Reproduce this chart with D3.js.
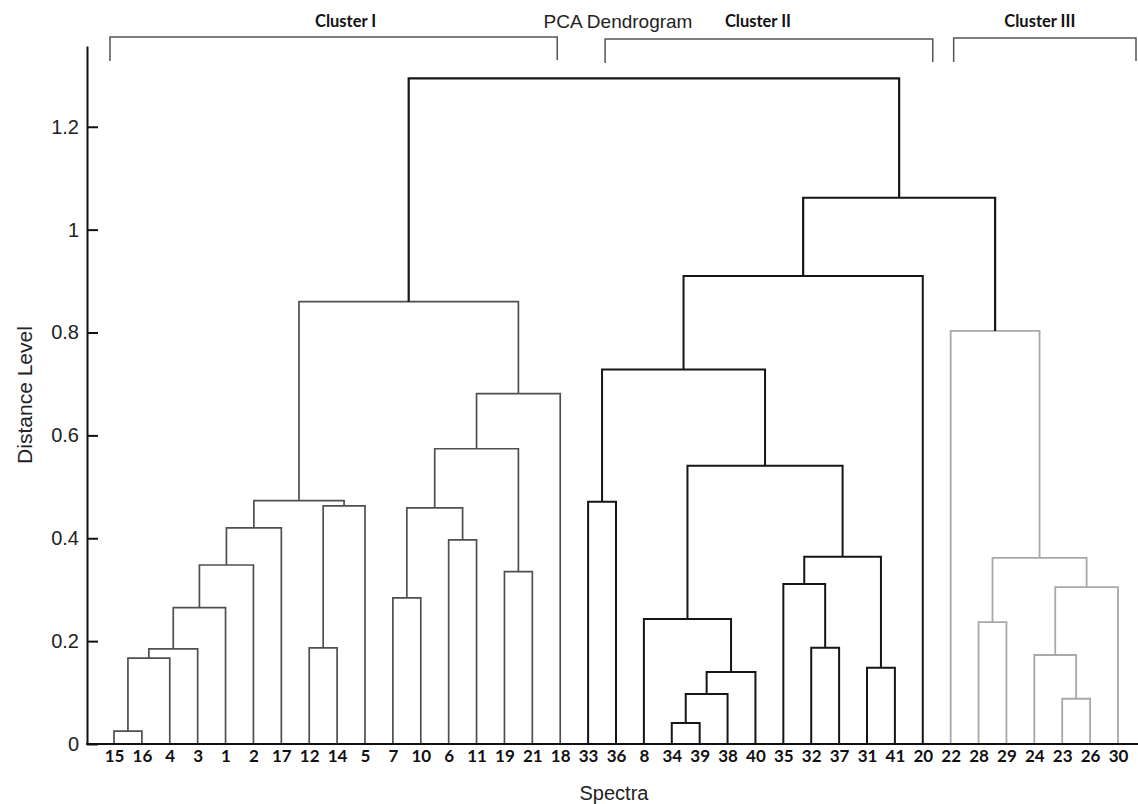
<!DOCTYPE html>
<html>
<head>
<meta charset="utf-8">
<script src="https://cdn.jsdelivr.net/npm/d3@7"></script>
<style>
body { margin: 0; background: #fff; }
</style>
</head>
<body>
<div id="chart"></div>
<script>
//// Data

// leaf order along the bottom
const leaves = [15, 16, 4, 3, 1, 2, 17, 12, 14, 5, 7, 10, 6, 11, 19, 21, 18,
                33, 36, 8, 34, 39, 38, 40, 35, 32, 37, 31, 41, 20,
                22, 28, 29, 24, 23, 26, 30]

// linkage: [left, right, distance]; numbers are leaves, "mN" is merge N (1-based)
const merges = [
    [15, 16, 0.025],      // m1
    ["m1", 4, 0.167],     // m2
    ["m2", 3, 0.185],     // m3
    ["m3", 1, 0.265],     // m4
    ["m4", 2, 0.348],     // m5
    ["m5", 17, 0.420],    // m6
    [12, 14, 0.187],      // m7
    ["m7", 5, 0.463],     // m8
    ["m6", "m8", 0.473],  // m9
    [7, 10, 0.284],       // m10
    [6, 11, 0.397],       // m11
    ["m10", "m11", 0.459],// m12
    [19, 21, 0.335],      // m13
    ["m12", "m13", 0.574],// m14
    ["m14", 18, 0.681],   // m15
    ["m9", "m15", 0.860], // m16
    [33, 36, 0.471],      // m17
    [34, 39, 0.041],      // m18
    ["m18", 38, 0.097],   // m19
    ["m19", 40, 0.140],   // m20
    [8, "m20", 0.243],    // m21
    [32, 37, 0.187],      // m22
    [35, "m22", 0.311],   // m23
    [31, 41, 0.148],      // m24
    ["m23", "m24", 0.364],// m25
    ["m21", "m25", 0.541],// m26
    ["m17", "m26", 0.728],// m27
    ["m27", 20, 0.910],   // m28
    [28, 29, 0.237],      // m29
    [23, 26, 0.088],      // m30
    [24, "m30", 0.173],   // m31
    ["m31", 30, 0.305],   // m32
    ["m29", "m32", 0.362],// m33
    [22, "m33", 0.803],   // m34
    ["m28", "m34", 1.062],// m35
    ["m16", "m35", 1.294] // m36
]

// which cluster each merge belongs to
const mergeGroup = [
    "I", "I", "I", "I", "I", "I", "I", "I", "I", "I", "I", "I", "I", "I", "I", "I",
    "II", "II", "II", "II", "II", "II", "II", "II", "II", "II", "II", "II",
    "III", "III", "III", "III", "III", "III",
    "top", "top"
]

const yTicks = [0, 0.2, 0.4, 0.6, 0.8, 1, 1.2]

const clusterNames = ["Cluster I", "Cluster II", "Cluster III"]
const clusterFirst = [15, 33, 22]
const clusterLast = [18, 20, 30]


//// Styles and layout

const W = 1138, H = 804
const GROUP_COLOR = { I: "#4f4f4f", II: "#161616", III: "#a8a8a8", top: "#161616" }
const GROUP_WIDTH = { I: 1.7, II: 2, III: 1.8, top: 2.2 }
// hand drawn brackets overshoot the leaves a bit
const BRACKET_PAD = [[-4, -3], [17, 10], [3, 18]]
const BRACKET_Y = [37, 39, 38]
const LABEL_NUDGE = [12, -11, -5]

const svg = d3.select("#chart")
    .append("svg")
        .attr("width", W)
        .attr("height", H)

var x = d3.scalePoint()
    .domain(leaves)
    .range([114, 1118])

var y = d3.scaleLinear()
    .domain([0, 1.357])
    .range([744, 46])

// Node positions: x is the mean of the two children
const nodeX = {}, nodeH = {}
leaves.forEach(l => { nodeX[l] = x(l); nodeH[l] = 0 })
merges.forEach((m, i) => {
    const id = "m" + (i + 1)
    nodeX[id] = (nodeX[m[0]] + nodeX[m[1]]) / 2
    nodeH[id] = m[2]
})

// Links
svg.append("g")
    .attr("fill", "none")
    .selectAll("path")
        .data(merges)
        .enter()
        .append("path")
            .attr("d", function(m) {
                const xl = nodeX[m[0]], xr = nodeX[m[1]]
                return "M" + xl + "," + y(nodeH[m[0]]) +
                    "V" + y(m[2]) + "H" + xr + "V" + y(nodeH[m[1]])
            })
            .attr("stroke", (m, i) => GROUP_COLOR[mergeGroup[i]])
            .attr("stroke-width", (m, i) => GROUP_WIDTH[mergeGroup[i]])
            .attr("stroke-linejoin", "miter")

// Y axis, ticks pointing inwards
const yAxis = svg.append("g")
    .attr("transform", "translate(87,0)")
    .call(d3.axisLeft(y)
        .tickValues(yTicks)
        .tickFormat(d => String(d))
        .tickSizeInner(-11)
        .tickSizeOuter(0)
        .tickPadding(8))
yAxis.select(".domain").attr("stroke", "#111").attr("stroke-width", 2)
yAxis.selectAll(".tick line").attr("stroke", "#111").attr("stroke-width", 2)
yAxis.selectAll(".tick text")
    .attr("x", -8)
    .attr("fill", "#222")
    .style("font-family", "'Liberation Sans', Arial, sans-serif")
    .style("font-size", "20px")

// X axis line runs across the whole width
svg.append("line")
    .attr("x1", 86).attr("x2", W)
    .attr("y1", 744).attr("y2", 744)
    .attr("stroke", "#111")
    .attr("stroke-width", 2)

// Leaf labels
const xAxis = svg.append("g")
    .attr("transform", "translate(0,744)")
    .call(d3.axisBottom(x).tickSize(0).tickPadding(6))
xAxis.select(".domain").remove()
xAxis.selectAll(".tick text")
    .attr("fill", "#111")
    .style("font-family", "Lato, 'Open Sans', sans-serif")
    .style("font-weight", "700")
    .style("font-size", "17px")

// Axis titles
svg.append("text")
    .attr("x", 614)
    .attr("y", 800)
    .attr("text-anchor", "middle")
    .attr("fill", "#222")
    .style("font-family", "'Liberation Sans', Arial, sans-serif")
    .style("font-size", "20px")
    .text("Spectra")

svg.append("text")
    .attr("transform", "translate(32,395) rotate(-90)")
    .attr("text-anchor", "middle")
    .attr("fill", "#222")
    .style("font-family", "'Liberation Sans', Arial, sans-serif")
    .style("font-size", "21px")
    .text("Distance Level")

svg.append("text")
    .attr("x", 618)
    .attr("y", 28)
    .attr("text-anchor", "middle")
    .attr("fill", "#222")
    .style("font-family", "'Liberation Sans', Arial, sans-serif")
    .style("font-size", "19px")
    .text("PCA Dendrogram")

// Cluster brackets
const brackets = svg.append("g")
    .selectAll("g")
        .data(clusterNames)
        .enter()
        .append("g")

brackets.append("path")
    .attr("d", function(d, i) {
        const x0 = x(clusterFirst[i]) + BRACKET_PAD[i][0]
        const x1 = x(clusterLast[i]) + BRACKET_PAD[i][1]
        const by = BRACKET_Y[i]
        return "M" + x0 + "," + (by + 24) + "V" + by + "H" + x1 + "V" + (by + 23)
    })
    .attr("fill", "none")
    .attr("stroke", "#555")
    .attr("stroke-width", 1.5)

brackets.append("text")
    .attr("x", (d, i) => (x(clusterFirst[i]) + BRACKET_PAD[i][0] + x(clusterLast[i]) + BRACKET_PAD[i][1]) / 2 + LABEL_NUDGE[i])
    .attr("y", 27)
    .attr("text-anchor", "middle")
    .attr("fill", "#111")
    .style("font-family", "Lato, 'Open Sans', sans-serif")
    .style("font-weight", "700")
    .style("font-size", "16.5px")
    .text(d => d)
</script>
</body>
</html>
